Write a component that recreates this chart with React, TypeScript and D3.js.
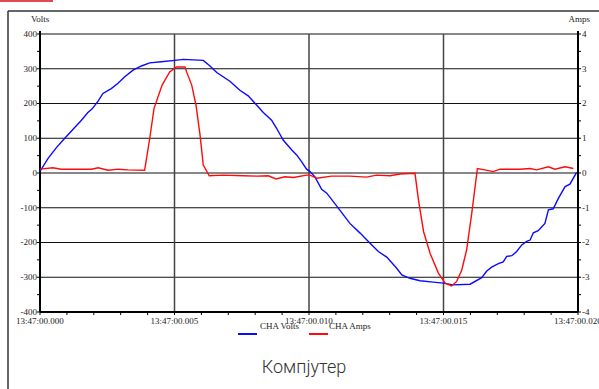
import React from "react";
import * as d3 from "d3";

// time in ms from 13:47:00.000
const voltsTime = [0, 0.3, 0.61, 0.92, 1.23, 1.54, 1.78, 1.93, 2.16, 2.34, 2.65, 2.9, 3.15, 3.46, 3.77, 4.08, 4.51, 5.01, 5.33, 6.07, 6.32, 6.57, 7.06, 7.43, 7.74, 8.06, 8.3, 8.61, 8.8, 9.04, 9.36, 9.54, 9.73, 9.91, 10.04, 10.22, 10.47, 10.66, 11.09, 11.52, 11.9, 12.27, 12.58, 12.89, 13.26, 13.45, 13.75, 14.13, 14.62, 14.99, 15.36, 15.99, 16.42, 16.61, 16.79, 17.04, 17.22, 17.35, 17.54, 17.72, 17.91, 18.09, 18.22, 18.34, 18.52, 18.77, 18.9, 19.08, 19.27, 19.52, 19.7, 19.95];
const voltsValues = [5, 42, 73, 100, 126, 152, 174, 184, 207, 229, 243, 258, 277, 296, 308, 317, 320, 324, 327, 324, 308, 289, 264, 238, 222, 195, 174, 152, 128, 95, 66, 52, 32, 11, 4, -11, -47, -58, -101, -145, -173, -202, -226, -242, -274, -293, -303, -310, -314, -317, -322, -320, -301, -282, -271, -261, -256, -240, -238, -226, -207, -197, -193, -172, -166, -145, -106, -103, -73, -39, -32, 2];

const ampsTime = [0, 0.48, 0.79, 1.42, 1.91, 2.16, 2.53, 2.9, 3.27, 3.89, 4.08, 4.24, 4.54, 4.82, 5.07, 5.39, 5.45, 5.64, 5.8, 5.95, 6.07, 6.29, 6.81, 7.56, 8.05, 8.49, 8.77, 9.11, 9.42, 9.91, 10.04, 10.29, 10.84, 11.52, 12.14, 12.51, 13.01, 13.38, 13.94, 14.07, 14.26, 14.5, 14.81, 15.06, 15.3, 15.49, 15.68, 15.86, 16.05, 16.26, 16.54, 16.85, 17.1, 17.84, 18.22, 18.46, 18.9, 19.14, 19.52, 19.83];
const ampsValues = [0.11, 0.15, 0.11, 0.11, 0.11, 0.15, 0.08, 0.11, 0.09, 0.08, 1.0, 1.86, 2.53, 2.91, 3.05, 3.05, 2.91, 2.53, 1.95, 1.09, 0.23, -0.08, -0.06, -0.08, -0.09, -0.08, -0.17, -0.11, -0.13, -0.06, -0.06, -0.15, -0.09, -0.09, -0.12, -0.06, -0.08, -0.03, -0.01, -0.78, -1.69, -2.31, -2.88, -3.17, -3.25, -3.12, -2.79, -2.21, -1.16, 0.13, 0.09, 0.04, 0.11, 0.11, 0.13, 0.09, 0.18, 0.11, 0.18, 0.13];

const xTickLabels = ["13:47:00.000", "13:47:00.005", "13:47:00.010", "13:47:00.015", "13:47:00.020"];
const voltsTicks = [400, 300, 200, 100, 0, -100, -200, -300, -400];
const ampsTicks = [4, 3, 2, 1, 0, -1, -2, -3, -4];
const seriesNames = ["CHA Volts", "CHA Amps"];
const title = "Компјутер";

const W = 599;
const H = 389;
const m = { left: 40, right: 578, top: 34, bottom: 312 };
const serif = "'Liberation Serif', 'Times New Roman', serif";
const fs = 9;

export default function App() {
  const x = d3.scaleLinear().domain([0, 20]).range([m.left, m.right]);
  const yV = d3.scaleLinear().domain([-400, 400]).range([m.bottom, m.top]);
  const yA = d3.scaleLinear().domain([-4, 4]).range([m.bottom, m.top]);

  const voltsLine = d3
    .line<number>()
    .x((_, i) => x(voltsTime[i]))
    .y((d) => yV(d));
  const ampsLine = d3
    .line<number>()
    .x((_, i) => x(ampsTime[i]))
    .y((d) => yA(d));

  const minorX = d3.range(0, 21, 1);
  const minorV = d3.range(-400, 401, 50);
  const minorA = d3.range(-4, 4.01, 0.5);

  return (
    <svg
      width={W}
      height={H}
      style={{ position: "absolute", left: 0, top: 0, background: "#fff" }}
    >
      {/* corner mark and frame */}
      <rect x={0} y={0} width={53} height={2} fill="#e24a50" />
      <line x1={8} y1={11} x2={W} y2={11} stroke="#333" strokeWidth={1.5} />
      <line x1={8} y1={11} x2={8} y2={H} stroke="#333" strokeWidth={1.5} />

      {/* horizontal grid */}
      {voltsTicks.map((v) => (
        <line
          key={"h" + v}
          x1={m.left}
          x2={m.right}
          y1={yV(v)}
          y2={yV(v)}
          stroke="#111"
          strokeWidth={1.2}
        />
      ))}
      {/* vertical grid */}
      {[5, 10, 15].map((t) => (
        <line
          key={"v" + t}
          x1={x(t)}
          x2={x(t)}
          y1={m.top}
          y2={m.bottom}
          stroke="#444"
          strokeWidth={1.5}
        />
      ))}

      {/* axes */}
      <line x1={m.left} x2={m.left} y1={m.top - 3} y2={m.bottom} stroke="#000" strokeWidth={2} />
      <line x1={m.right} x2={m.right} y1={m.top - 3} y2={m.bottom} stroke="#000" strokeWidth={2} />
      <line x1={m.left} x2={m.right} y1={m.bottom} y2={m.bottom} stroke="#000" strokeWidth={2} />

      {minorV.map((v) => (
        <line key={"tl" + v} x1={m.left - 3} x2={m.left} y1={yV(v)} y2={yV(v)} stroke="#000" strokeWidth={1} />
      ))}
      {minorA.map((a) => (
        <line key={"tr" + a} x1={m.right} x2={m.right + 3} y1={yA(a)} y2={yA(a)} stroke="#000" strokeWidth={1} />
      ))}
      {minorX.map((t) => (
        <line key={"tx" + t} x1={x(t)} x2={x(t)} y1={m.bottom} y2={m.bottom + 3} stroke="#000" strokeWidth={1} />
      ))}

      {/* tick labels */}
      {voltsTicks.map((v) => (
        <text
          key={"lv" + v}
          x={m.left - 3}
          y={yV(v)}
          dy="0.33em"
          textAnchor="end"
          fontFamily={serif}
          fontSize={fs}
          fill="#222"
        >
          {v}
        </text>
      ))}
      {ampsTicks.map((a) => (
        <text
          key={"la" + a}
          x={m.right + 4}
          y={yA(a)}
          dy="0.33em"
          textAnchor="start"
          fontFamily={serif}
          fontSize={fs}
          fill="#222"
        >
          {a}
        </text>
      ))}
      {xTickLabels.map((s, i) => (
        <text
          key={s}
          x={x(i * 5)}
          y={m.bottom + 12}
          textAnchor="middle"
          fontFamily={serif}
          fontSize={fs}
          fill="#222"
        >
          {s}
        </text>
      ))}

      <text x={31} y={22} fontFamily={serif} fontSize={fs} fill="#222">
        Volts
      </text>
      <text x={590} y={22} textAnchor="end" fontFamily={serif} fontSize={fs} fill="#222">
        Amps
      </text>

      {/* series */}
      <path d={voltsLine(voltsValues) || ""} fill="none" stroke="#0a0aff" strokeWidth={1.4} />
      <path d={ampsLine(ampsValues) || ""} fill="none" stroke="#ff0a0a" strokeWidth={1.4} />

      {/* legend */}
      <line x1={238} x2={257} y1={334} y2={334} stroke="#0a0aff" strokeWidth={2} />
      <text x={260} y={329} fontFamily={serif} fontSize={fs} fill="#222">
        {seriesNames[0]}
      </text>
      <line x1={309} x2={328} y1={334} y2={334} stroke="#ff0a0a" strokeWidth={2} />
      <text x={329} y={329} fontFamily={serif} fontSize={fs} fill="#222">
        {seriesNames[1]}
      </text>

      <text
        x={304}
        y={373}
        textAnchor="middle"
        fontFamily="Roboto, 'Noto Sans', sans-serif"
        fontWeight={300}
        fontSize={18}
        fill="#333"
      >
        {title}
      </text>
    </svg>
  );
}
